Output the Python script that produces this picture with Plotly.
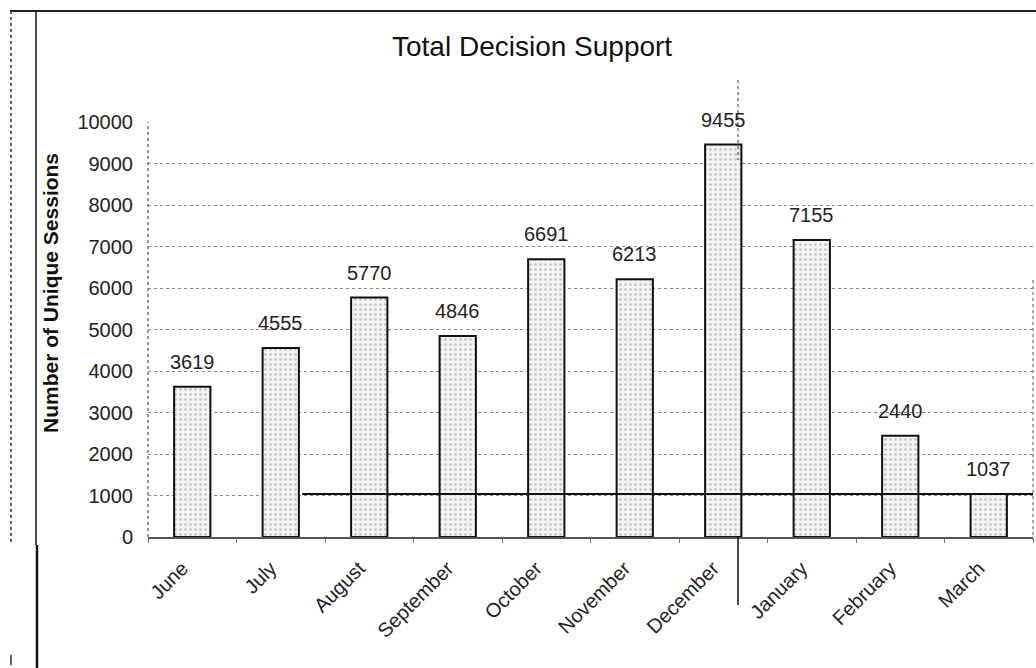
import plotly.graph_objects as go

months = ["June", "July", "August", "September", "October", "November",
          "December", "January", "February", "March"]
sessions = [3619, 4555, 5770, 4846, 6691, 6213, 9455, 7155, 2440, 1037]
y_ticks = [0, 1000, 2000, 3000, 4000, 5000, 6000, 7000, 8000, 9000, 10000]

W, H = 1036, 668
L, R, T, B = 148, 3, 122, 131
PW, PH = W - L - R, H - T - B
FONT = "Liberation Sans, Arial, Helvetica, sans-serif"


def px(x):
    return (x - L) / PW


def py(y):
    return (H - B - y) / PH


fig = go.Figure()
fig.add_trace(go.Bar(
    x=months, y=sessions,
    marker=dict(
        color="#eeeeee",
        line=dict(color="#111111", width=2),
        pattern=dict(shape=".", fgcolor="#8a8a8a", bgcolor="#f4f4f4",
                     size=5, solidity=0.22),
    ),
    width=0.41,
    hoverinfo="skip",
))

annotations = []
for m, v in zip(months, sessions):
    annotations.append(dict(
        x=m, y=v, xref="x", yref="y", text=str(v), showarrow=False,
        yanchor="bottom", yshift=12,
        font=dict(family=FONT, size=20, color="#222222"),
    ))

annotations.append(dict(
    x=px(50), y=py(293), xref="paper", yref="paper",
    text="<b>Number of Unique Sessions</b>", textangle=-90, showarrow=False,
    font=dict(family=FONT, size=21, color="#111111"),
    xanchor="center", yanchor="middle",
))
annotations.append(dict(
    x=px(532), y=py(47), xref="paper", yref="paper",
    text="Total Decision Support", showarrow=False,
    font=dict(family=FONT, size=28, color="#111111"),
    xanchor="center", yanchor="middle",
))

shapes = [
    # dotted y axis line
    dict(type="line", xref="paper", yref="paper", x0=0, x1=0,
         y0=0, y1=1, line=dict(color="#777777", width=1.5, dash="dot")),
    # horizontal black line at March value
    dict(type="line", xref="paper", yref="y", x0=px(302), x1=px(1033),
         y0=sessions[-1], y1=sessions[-1], line=dict(color="#111111", width=2)),
    # vertical line near December bar edge
    dict(type="line", xref="paper", yref="paper", x0=px(738), x1=px(738),
         y0=py(80), y1=py(160), line=dict(color="#333333", width=1, dash="dot")),
    dict(type="line", xref="paper", yref="paper", x0=px(738), x1=px(738),
         y0=py(537), y1=py(605), line=dict(color="#111111", width=1.5)),
    # right dotted edge
    dict(type="line", xref="paper", yref="paper", x0=px(1033), x1=px(1033),
         y0=py(280), y1=py(540), line=dict(color="#555555", width=1, dash="dot")),
    # page borders
    dict(type="line", xref="paper", yref="paper", x0=px(10), x1=px(1036),
         y0=py(11), y1=py(11), line=dict(color="#222222", width=2)),
    dict(type="line", xref="paper", yref="paper", x0=px(11), x1=px(11),
         y0=py(11), y1=py(543), line=dict(color="#333333", width=1.5, dash="dot")),
    dict(type="line", xref="paper", yref="paper", x0=px(11), x1=px(11),
         y0=py(655), y1=py(665), line=dict(color="#333333", width=1.5)),
    dict(type="line", xref="paper", yref="paper", x0=px(36), x1=px(36),
         y0=py(10), y1=py(545), line=dict(color="#111111", width=1.5)),
    dict(type="line", xref="paper", yref="paper", x0=px(37), x1=px(37),
         y0=py(545), y1=py(668), line=dict(color="#111111", width=2.5)),
]

fig.update_layout(
    width=W, height=H,
    margin=dict(l=L, r=R, t=T, b=B),
    paper_bgcolor="white", plot_bgcolor="white",
    showlegend=False,
    annotations=annotations,
    shapes=shapes,
    font=dict(family=FONT, size=20, color="#222222"),
    xaxis=dict(
        categoryorder="array", categoryarray=months,
        tickangle=-45, tickson="boundaries", ticks="outside", ticklen=4,
        tickcolor="#777777", showgrid=False,
        showline=True, linecolor="#555555", linewidth=1.5,
        ticklabelstandoff=10, ticklabelshift=-10,
        tickfont=dict(family=FONT, size=20, color="#222222"),
    ),
    yaxis=dict(
        range=[0, 10000], tickvals=y_ticks, ticktext=[str(t) for t in y_ticks],
        showgrid=True, gridcolor="#888888", griddash="dot", gridwidth=1,
        zeroline=False, showline=False,
        ticks="", ticklabelstandoff=14,
        tickfont=dict(family=FONT, size=20, color="#222222"),
    ),
)

fig.write_html("out.html")
